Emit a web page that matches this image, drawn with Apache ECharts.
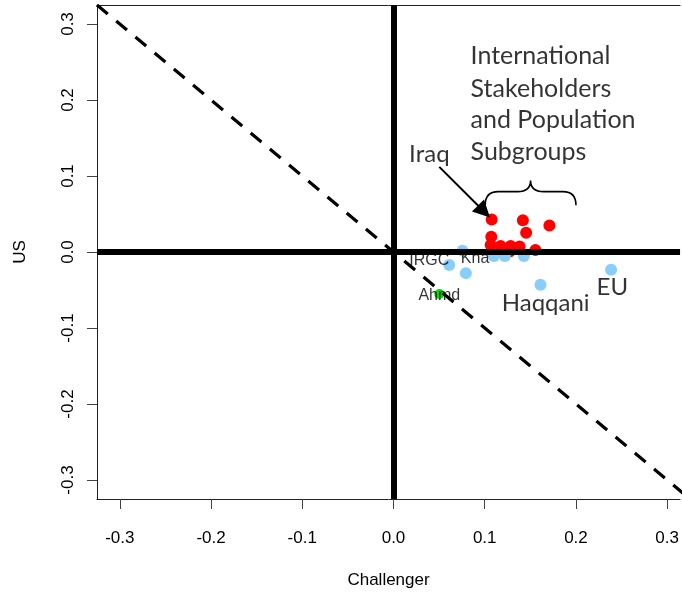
<!DOCTYPE html>
<html>
<head>
<meta charset="utf-8">
<script src="https://cdn.jsdelivr.net/npm/echarts@6/dist/echarts.min.js"></script>
<style>html,body{margin:0;padding:0;background:#fff}#c{width:682px;height:594px}</style>
</head>
<body>
<div id="c"></div>
<script>
// ---- data ----
const xTicks = [-0.3, -0.2, -0.1, 0.0, 0.1, 0.2, 0.3];
const yTicks = [-0.3, -0.2, -0.1, 0.0, 0.1, 0.2, 0.3];
const redX = [0.1076, 0.1418, 0.1709, 0.1454, 0.1072, 0.1065, 0.1174, 0.1284, 0.1382, 0.1273, 0.1556];
const redY = [0.0427, 0.0418, 0.0349, 0.0254, 0.0201, 0.0092, 0.0078, 0.0078, 0.0071, 0.0005, 0.0026];
const blueX = [0.0756, 0.0611, 0.0793, 0.1101, 0.1221, 0.1429, 0.1611, 0.2385];
const blueY = [0.0018, -0.0170, -0.0278, -0.0052, -0.0052, -0.0052, -0.0431, -0.0235];
const greenX = [0.0502];
const greenY = [-0.0553];
const diagX = [-0.325, 0.325];
const diagY = [0.325, -0.325];
const smallLabels = ['IRGC', 'Kha', 'Ahmd'];
const smallLabelX = [0.0393, 0.0894, 0.0502];
const smallLabelY = [-0.0108, -0.0082, -0.0580];
const bigLabels = ['Haqqani', 'EU', 'Iraq'];
const bigLabelX = [0.1668, 0.2399, 0.0393];
const bigLabelY = [-0.0670, -0.0460, 0.1290];
const noteLines = ['International', 'Stakeholders', 'and Population', 'Subgroups'];
const noteX = 0.0845;
const noteY = [0.2580, 0.2150, 0.1735, 0.1320];
const arrowFrom = [0.0502, 0.1120];
const arrowTo = [0.0992, 0.0532];
const braceXs = [0.1005, 0.2];   // left / right ends
const braceYs = [0.0615, 0.0794, 0.0940]; // ends, bar, tip
const xRange = [-0.325, 0.3141];
const yRange = [-0.325, 0.325];

const zip = (a, b) => a.map((v, i) => [v, b[i]]);
const axisFont = {fontFamily: 'Liberation Sans, Arial, sans-serif', fontSize: 17, color: '#000'};
const frame = {show: true, onZero: false, lineStyle: {color: '#222', width: 1}};

const chart = echarts.init(document.getElementById('c'), null, {renderer: 'canvas'});
chart.setOption({
  animation: false,
  backgroundColor: '#fff',
  grid: {left: 97, top: 5, right: 0, bottom: 92, show: false},
  xAxis: [{
    type: 'value', min: xRange[0], max: xRange[1], position: 'bottom',
    name: 'Challenger', nameLocation: 'middle', nameGap: 73,
    nameTextStyle: axisFont,
    splitLine: {show: false}, axisLine: frame,
    axisTick: {show: true, customValues: xTicks, length: 10, lineStyle: {color: '#444', width: 1}},
    axisLabel: Object.assign({customValues: xTicks, margin: 31, formatter: v => v.toFixed(1)}, axisFont)
  }, {
    type: 'value', min: xRange[0], max: xRange[1], position: 'top',
    splitLine: {show: false}, axisLine: frame, axisTick: {show: false}, axisLabel: {show: false}
  }],
  yAxis: {
    type: 'value', min: yRange[0], max: yRange[1],
    name: 'US', nameLocation: 'middle', nameGap: 68,
    nameTextStyle: axisFont,
    splitLine: {show: false}, axisLine: frame,
    axisTick: {show: true, customValues: yTicks, length: 10, lineStyle: {color: '#444', width: 1}},
    axisLabel: Object.assign({customValues: yTicks, margin: 20, rotate: 90, formatter: v => v.toFixed(1)}, axisFont)
  },
  series: [
    {type: 'scatter', data: zip(redX, redY), symbolSize: 12, itemStyle: {color: '#FF0000', opacity: 1}, z: 2},
    {type: 'scatter', data: zip(blueX, blueY), symbolSize: 12, itemStyle: {color: '#87CEFA', opacity: 1}, z: 2},
    {type: 'scatter', data: zip(greenX, greenY), symbolSize: 10, itemStyle: {color: '#00E000', opacity: 1}, z: 2},
    {
      type: 'line', data: zip(diagX, diagY), symbol: 'none', z: 3, clip: true,
      lineStyle: {color: '#000', width: 3.2, type: [14, 11]},
      markLine: {
        silent: true, symbol: 'none', label: {show: false}, animation: false,
        lineStyle: {color: '#000', width: 6, type: 'solid'},
        data: [{xAxis: 0}, {yAxis: 0}]
      }
    },
    {
      type: 'line', data: [], z: 4,
      markLine: {
        silent: true, symbol: ['none', 'triangle'], symbolSize: 17, label: {show: false}, animation: false,
        lineStyle: {color: '#000', width: 2, type: 'solid'},
        data: [[{coord: arrowFrom}, {coord: arrowTo}]]
      }
    },
    {
      type: 'custom', z: 4, silent: true, data: [0],
      renderItem: function (params, api) {
        const l = api.coord([braceXs[0], braceYs[0]]);
        const r = api.coord([braceXs[1], braceYs[0]]);
        const barY = api.coord([braceXs[0], braceYs[1]])[1];
        const tipY = api.coord([braceXs[0], braceYs[2]])[1];
        const mx = (l[0] + r[0]) / 2;
        const c = 13;
        const d = ['M', l[0], l[1],
          'Q', l[0], barY, l[0] + c, barY,
          'L', mx - c, barY,
          'Q', mx, barY, mx, tipY,
          'Q', mx, barY, mx + c, barY,
          'L', r[0] - c, barY,
          'Q', r[0], barY, r[0], r[1]].join(' ');
        return {type: 'path', shape: {pathData: d}, style: {fill: null, stroke: '#000', lineWidth: 1.6}};
      }
    },
    {
      type: 'scatter', z: 5, symbolSize: 0, silent: true,
      data: smallLabels.map((n, i) => ({name: n, value: [smallLabelX[i], smallLabelY[i]]})),
      label: {show: true, position: 'inside', formatter: p => p.name, fontFamily: 'Liberation Sans, Arial, sans-serif', fontSize: 16, color: '#000'}
    },
    {
      type: 'scatter', z: 5, symbolSize: 0, silent: true,
      data: bigLabels.map((n, i) => ({name: n, value: [bigLabelX[i], bigLabelY[i]]})),
      label: {show: true, position: 'inside', formatter: p => p.name, fontFamily: 'Lato, sans-serif', fontSize: 24, color: '#000'}
    },
    {
      type: 'scatter', z: 5, symbolSize: 0, silent: true,
      data: noteLines.map((n, i) => ({name: n, value: [noteX, noteY[i]]})),
      label: {show: true, position: 'right', distance: 0, formatter: p => p.name, fontFamily: 'Lato, sans-serif', fontSize: 25, color: '#000'}
    }
  ]
});
</script>
</body>
</html>
